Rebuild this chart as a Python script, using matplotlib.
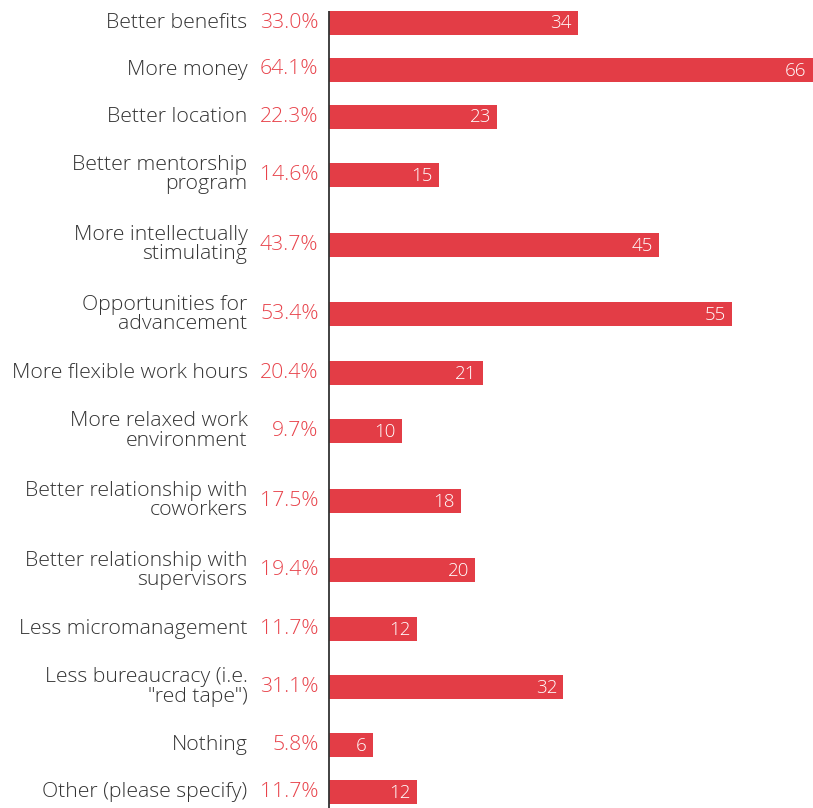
import matplotlib
matplotlib.use("Agg")
import matplotlib.pyplot as plt

categories = [
    "Better benefits",
    "More money",
    "Better location",
    "Better mentorship\nprogram",
    "More intellectually\nstimulating",
    "Opportunities for\nadvancement",
    "More flexible work hours",
    "More relaxed work\nenvironment",
    "Better relationship with\ncoworkers",
    "Better relationship with\nsupervisors",
    "Less micromanagement",
    "Less bureaucracy (i.e.\n\"red tape\")",
    "Nothing",
    "Other (please specify)",
]
counts = [34, 66, 23, 15, 45, 55, 21, 10, 18, 20, 12, 32, 6, 12]
percents = [33.0, 64.1, 22.3, 14.6, 43.7, 53.4, 20.4, 9.7, 17.5, 19.4, 11.7, 31.1, 5.8, 11.7]

BAR_COLOR = "#E33D46"
PCT_COLOR = "#E8434B"
TEXT_COLOR = "#333333"
FONT = ["Open Sans", "Lato", "DejaVu Sans"]

W, H = 813, 808
fig = plt.figure(figsize=(W / 100, H / 100), dpi=100)
axis_x = 328.5
ax = fig.add_axes([axis_x / W, 0, 1 - axis_x / W, 1])

# Row heights depend on how many lines the category label wraps to
ROW_SINGLE, ROW_DOUBLE = 47.0, 69.7
heights = [ROW_SINGLE if "\n" not in c else ROW_DOUBLE for c in categories]
ys = [22.5]
for i in range(1, len(categories)):
    ys.append(ys[-1] + (heights[i - 1] + heights[i]) / 2)

ax.barh(ys, counts, height=24, color=BAR_COLOR, edgecolor="none")
ax.set_xlim(0, 66.05)
ax.set_ylim(H, 0)
ax.axis("off")

# vertical baseline
ax.plot([0, 0], [10.5, H], color="#333333", lw=1.3, solid_capstyle="butt", clip_on=False)

for y, cat, n, p in zip(ys, categories, counts, percents):
    ax.annotate(cat, xy=(0, y), xytext=(-81, 0), textcoords="offset pixels",
                ha="right", va="center", fontsize=15.3, color=TEXT_COLOR,
                family=FONT, fontweight="light", linespacing=0.95,
                annotation_clip=False)
    ax.annotate(f"{p:.1f}%", xy=(0, y), xytext=(-10, 0), textcoords="offset pixels",
                ha="right", va="center", fontsize=15.3, color=PCT_COLOR,
                family=FONT, fontweight="light", annotation_clip=False)
    ax.annotate(f"{n}", xy=(n, y), xytext=(-6, -1), textcoords="offset pixels",
                ha="right", va="center", fontsize=13.5, color="white",
                family=FONT, fontweight="light", annotation_clip=False)

fig.savefig("out.png", dpi=100, facecolor="white")
